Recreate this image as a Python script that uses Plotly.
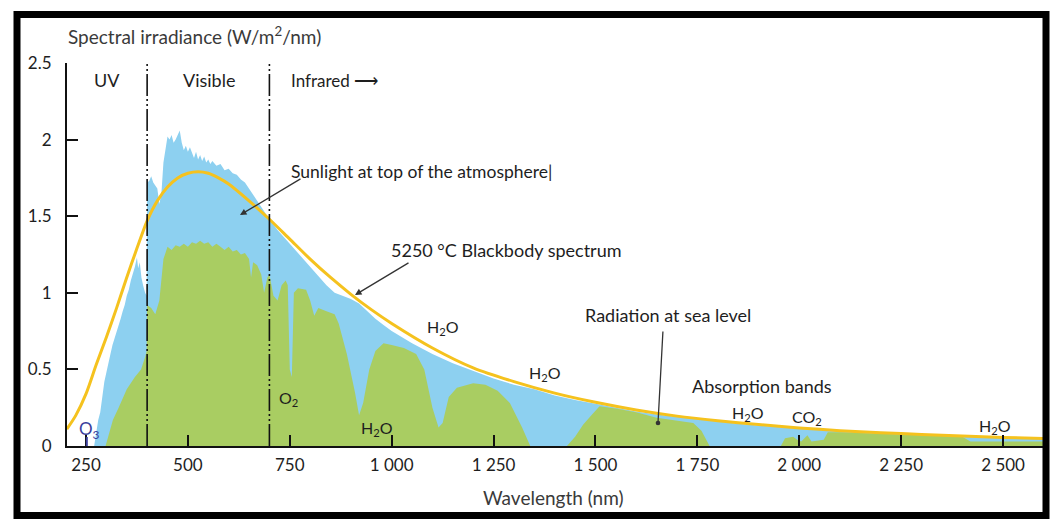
import plotly.graph_objects as go

# ---------------- data ----------------
# 5250 °C blackbody spectrum
bb_nm = [203, 225, 250, 275, 300, 325, 350, 375, 400, 425, 450, 475, 500, 525, 550, 575, 600,
         650, 700, 750, 800, 850, 900, 950, 1000, 1100, 1200, 1300, 1400, 1500, 1600, 1700,
         1800, 1900, 2000, 2100, 2200, 2300, 2400, 2500, 2600]
bb_val = [0.11, 0.2, 0.34, 0.53, 0.71, 0.9, 1.1, 1.29, 1.47, 1.6, 1.69, 1.75, 1.78, 1.79, 1.78, 1.75, 1.71,
          1.6, 1.48, 1.35, 1.22, 1.1, 0.99, 0.89, 0.8, 0.64, 0.51, 0.42, 0.345, 0.285, 0.235, 0.195,
          0.165, 0.14, 0.118, 0.1, 0.087, 0.075, 0.065, 0.056, 0.049]

# Sunlight at top of the atmosphere
toa_nm = [270, 275, 280, 285, 290, 295, 300, 305, 310, 315, 320, 325, 330, 335, 340, 345, 350, 355,
          360, 365, 370, 375, 378, 382, 386, 390, 395, 399, 400, 405, 410, 415, 420, 425, 430, 435,
          440, 445, 450, 455, 460, 465, 470, 475, 480, 485, 490, 495, 500, 505, 510, 515, 520, 525,
          530, 535, 540, 545, 550, 555, 560, 570, 580, 590, 600, 610, 620, 630, 640, 650, 660, 670,
          680, 690, 700, 720, 740, 760, 780, 800, 820, 840, 860, 880, 900, 920, 940, 960, 980, 1000,
          1050, 1100, 1150, 1200, 1250, 1300, 1350, 1400, 1450, 1500, 1550, 1600, 1650, 1700, 1750,
          1800, 1850, 1900, 1950, 2000, 2100, 2200, 2300, 2400, 2500, 2600]
toa_val = [0.0, 0.08, 0.17, 0.22, 0.33, 0.42, 0.48, 0.55, 0.6, 0.66, 0.7, 0.74, 0.79, 0.83, 0.88, 0.92,
           0.98, 1.02, 1.08, 1.12, 1.17, 1.23, 1.16, 1.2, 1.1, 1.05, 1.0, 0.98, 1.72, 1.73, 1.76, 1.72,
           1.7, 1.68, 1.58, 1.65, 1.85, 1.95, 2.02, 2.0, 2.03, 1.98, 2.0, 2.03, 2.06, 1.98, 1.93, 1.96,
           1.92, 1.95, 1.91, 1.88, 1.92, 1.87, 1.9, 1.86, 1.89, 1.85, 1.87, 1.84, 1.86, 1.83, 1.84, 1.8,
           1.81, 1.78, 1.77, 1.74, 1.72, 1.68, 1.64, 1.6, 1.56, 1.52, 1.48, 1.41, 1.35, 1.29, 1.23, 1.17,
           1.11, 1.05, 1.0, 0.98, 0.96, 0.93, 0.88, 0.83, 0.79, 0.75, 0.67, 0.6, 0.54, 0.49, 0.44, 0.4,
           0.37, 0.33, 0.3, 0.275, 0.25, 0.225, 0.205, 0.19, 0.172, 0.158, 0.145, 0.134, 0.123, 0.113,
           0.097, 0.084, 0.073, 0.063, 0.055, 0.048]

# Radiation at sea level
sea_nm = [298, 305, 316, 330, 350, 370, 385, 395, 399, 400, 410, 420, 430, 440, 450, 460, 470, 480,
          490, 500, 510, 520, 530, 540, 550, 560, 570, 580, 590, 600, 610, 620, 630, 640, 650, 655,
          660, 670, 680, 687, 695, 700, 710, 720, 730, 740, 745, 750, 755, 760, 770, 790, 800, 810,
          820, 840, 860, 870, 890, 910, 920, 930, 945, 960, 980, 1000, 1030, 1060, 1080, 1100, 1115,
          1125, 1140, 1160, 1200, 1230, 1260, 1290, 1320, 1340, 1430, 1450, 1470, 1490, 1510, 1550,
          1600, 1650, 1700, 1740, 1760, 1780, 1955, 1965, 1985, 1995, 2005, 2020, 2030, 2060, 2070,
          2100, 2200, 2300, 2400, 2420, 2600]
sea_val = [0.0, 0.06, 0.17, 0.25, 0.37, 0.45, 0.5, 0.58, 0.62, 0.92, 0.9, 0.86, 0.95, 1.22, 1.3, 1.28,
           1.31, 1.3, 1.32, 1.3, 1.33, 1.32, 1.34, 1.32, 1.33, 1.3, 1.32, 1.3, 1.28, 1.3, 1.27, 1.28,
           1.25, 1.26, 1.22, 1.1, 1.2, 1.18, 1.12, 1.0, 1.1, 1.12, 0.98, 0.95, 1.05, 1.08, 1.05, 0.5,
           0.45, 1.0, 1.03, 1.02, 0.95, 0.85, 0.9, 0.88, 0.86, 0.8, 0.6, 0.35, 0.2, 0.28, 0.5, 0.62,
           0.67, 0.66, 0.64, 0.6, 0.5, 0.25, 0.12, 0.15, 0.32, 0.38, 0.41, 0.4, 0.36, 0.28, 0.12, 0.0,
           0.0, 0.06, 0.14, 0.2, 0.26, 0.245, 0.22, 0.185, 0.165, 0.15, 0.1, 0.0, 0.0, 0.05, 0.06,
           0.04, 0.03, 0.07, 0.03, 0.04, 0.09, 0.09, 0.08, 0.07, 0.06, 0.03, 0.03]

x_tickvals = [250, 500, 750, 1000, 1250, 1500, 1750, 2000, 2250, 2500]
x_ticktext = ["250", "500", "750", "1 000", "1 250", "1 500", "1 750",
              "2 000", "2 250", "2 500"]
y_tickvals = [0, 0.5, 1, 1.5, 2, 2.5]
y_ticktext = ["0", "0.5", "1", "1.5", "2", "2.5"]
region_bounds = [400, 700]

# ---------------- styling / layout ----------------
W, H = 1050, 520
L, R, T, B = 67, 7, 63, 74
PW, PH = W - L - R, H - T - B
XR = [203.4, 2598]
YR = [0, 2.5]

BLUE = "#8DD0F0"
GREEN = "#A9CD62"
GOLD = "#F5C21E"
TXT = "#1e1e1e"
FONT = "Lato"


def px(xp):
    return (xp - L) / PW


def py(yp):
    return (H - B - yp) / PH


def dx(xp):
    return XR[0] + (xp - L) * (XR[1] - XR[0]) / PW


def dy(yp):
    return YR[0] + (H - B - yp) * (YR[1] - YR[0]) / PH


fig = go.Figure()
fig.add_trace(go.Scatter(x=toa_nm, y=toa_val, mode="lines", fill="tozeroy",
                         line=dict(width=0, color=BLUE), fillcolor=BLUE, hoverinfo="skip"))
fig.add_trace(go.Scatter(x=sea_nm, y=sea_val, mode="lines", fill="tozeroy",
                         line=dict(width=0, color=GREEN), fillcolor=GREEN, hoverinfo="skip"))
fig.add_trace(go.Scatter(x=bb_nm, y=bb_val, mode="lines",
                         line=dict(width=3, color=GOLD, shape="spline", smoothing=0.8),
                         hoverinfo="skip"))

shapes = []
for b in region_bounds:
    shapes.append(dict(type="line", xref="x", yref="y", x0=b, x1=b, y0=0, y1=2.5,
                       line=dict(color="#111111", width=1.6, dash="22px,3px,2px,3px,2px,3px")))
# thick picture frame
shapes.append(dict(type="rect", xref="paper", yref="paper",
                   x0=px(17), x1=px(1046), y0=py(14.5), y1=py(515.5),
                   line=dict(color="#000000", width=7), fillcolor="rgba(0,0,0,0)", layer="above"))
# O3 stem
shapes.append(dict(type="line", xref="x", yref="y", x0=252, x1=252, y0=0, y1=dy(437),
                   line=dict(color="#3B3F9C", width=2)))

ann = []


def label(text, xp, yp, size=14, anchor="center", color=TXT):
    ann.append(dict(text=text, x=dx(xp), y=dy(yp), xref="x", yref="y", showarrow=False,
                    xanchor=anchor, yanchor="middle", font=dict(family=FONT, size=size, color=color)))


def arrow(x_tail, y_tail, x_head, y_head, head=2, size=1.0):
    ann.append(dict(text="", x=dx(x_head), y=dy(y_head), ax=dx(x_tail), ay=dy(y_tail),
                    xref="x", yref="y", axref="x", ayref="y", showarrow=True,
                    arrowhead=head, arrowsize=size, arrowwidth=1.3, arrowcolor="#333333",
                    standoff=0, startstandoff=0))


# axis titles
ann.append(dict(text="Spectral irradiance (W/m<sup>2</sup>/nm)", x=px(66), y=py(35), xref="paper",
                yref="paper", showarrow=False, xanchor="left", yanchor="middle",
                font=dict(family=FONT, size=19, color="#3a3a3a")))
ann.append(dict(text="Wavelength (nm)", x=px(553), y=py(497), xref="paper", yref="paper",
                showarrow=False, xanchor="center", yanchor="middle",
                font=dict(family=FONT, size=19, color="#3a3a3a")))

label("UV", 107, 80, 18)
label("Visible", 209, 80, 18)
label("Infrared \u27f6", 289, 80, 17, anchor="left")
label("Sunlight at top of the atmosphere|", 289, 171, 17.5, anchor="left")
label("5250 \u00b0C Blackbody spectrum", 389, 250, 18, anchor="left")
label("Radiation at sea level", 668, 315, 18)
label("Absorption bands", 762, 386, 18)
for (xp, yp) in [(443, 327), (545, 373), (377, 428), (748, 413), (995, 426)]:
    label("H<sub>2</sub>O", xp, yp, 16)
label("O<sub>2</sub>", 288, 398, 16)
label("CO<sub>2</sub>", 807, 417, 16)
label("O<sub>3</sub>", 89, 430, 17, color="#3B3F9C")

arrow(302, 178, 240, 215)
arrow(410, 262, 355, 295)
arrow(663, 330, 658, 423, head=6, size=0.9)

fig.update_layout(
    width=W, height=H, margin=dict(l=L, r=R, t=T, b=B),
    paper_bgcolor="white", plot_bgcolor="white", showlegend=False,
    shapes=shapes, annotations=ann,
    xaxis=dict(range=XR, tickvals=x_tickvals, ticktext=x_ticktext, ticks="inside", ticklen=11,
               tickwidth=2, tickcolor="#111111", showline=True, linecolor="#111111", linewidth=2,
               showgrid=False, zeroline=False, ticklabelstandoff=3,
               tickfont=dict(family=FONT, size=17, color=TXT)),
    yaxis=dict(range=YR, tickvals=y_tickvals, ticktext=y_ticktext, ticks="inside", ticklen=11,
               tickwidth=2, tickcolor="#111111", showline=True, linecolor="#111111", linewidth=2,
               showgrid=False, zeroline=False, ticklabelstandoff=10,
               tickfont=dict(family=FONT, size=17, color=TXT)),
)

fig.write_html("out.html", config={"displayModeBar": False},
               post_script="document.body.style.margin='0';document.body.style.overflow='hidden';")
